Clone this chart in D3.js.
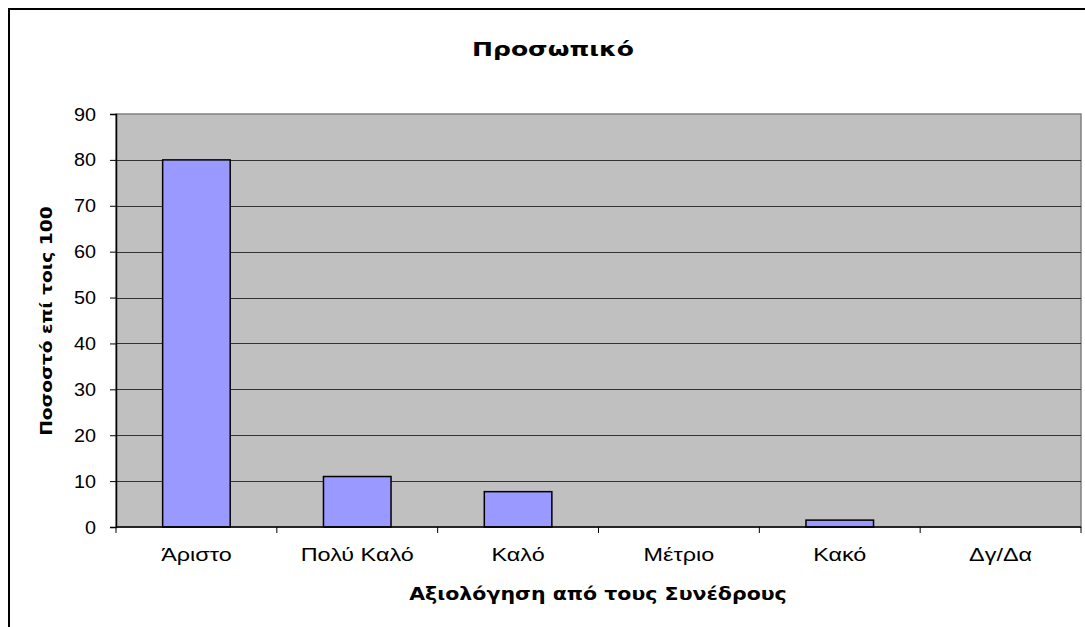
<!DOCTYPE html>
<html>
<head>
<meta charset="utf-8">
<script src="https://cdn.jsdelivr.net/npm/d3@7"></script>
<style>
  body { margin: 0; background: #fff; }
  svg { display: block; }
</style>
</head>
<body>
<svg id="chart" width="1085" height="627"></svg>
<script>
// categories along the x axis
const CATEGORIES = ["Άριστο", "Πολύ Καλό", "Καλό", "Μέτριο", "Κακό", "Δγ/Δα"];
// percentage per category
const VALUES = [80, 11, 7.7, 0, 1.5, 0];
// y tick values
const Y_TICKS = [0, 10, 20, 30, 40, 50, 60, 70, 80, 90];

const TITLE = "Προσωπικό";
const X_TITLE = "Αξιολόγηση από τους Συνέδρους";
const Y_TITLE = "Ποσοστό επί τοις 100";

const SANS = "'Liberation Sans', Arial, sans-serif";
const BOLD = "'DejaVu Sans', Verdana, sans-serif";

// text in the original is stretched sideways, so each label gets its own x-scale
function addText(g, x, y, str, opts) {
  return g.append("text")
    .attr("transform", `translate(${x},${y})` + (opts.rotate ? ` rotate(${opts.rotate})` : "") + ` scale(${opts.sx},1)`)
    .attr("text-anchor", opts.anchor || "middle")
    .attr("font-family", opts.family)
    .attr("font-weight", opts.weight || "normal")
    .attr("font-size", opts.size)
    .attr("fill", "#000")
    .text(str);
}

function drawChart() {
  const svg = d3.select("#chart");

  // outer chart frame (runs off right/bottom edge)
  svg.append("rect")
    .attr("x", 9).attr("y", 9)
    .attr("width", 1100).attr("height", 640)
    .attr("fill", "#fff")
    .attr("stroke", "#000")
    .attr("stroke-width", 2);

  const left = 116, top = 114, right = 1081, bottom = 527;

  const x = d3.scaleBand()
    .domain(CATEGORIES)
    .range([left, right])
    .paddingInner(0.58)
    .paddingOuter(0.29);

  const y = d3.scaleLinear()
    .domain([0, 90])
    .range([bottom, top]);

  // plot background
  svg.append("rect")
    .attr("x", left).attr("y", top)
    .attr("width", right - left).attr("height", bottom - top)
    .attr("fill", "#c0c0c0")
    .attr("stroke", "#808080")
    .attr("stroke-width", 1.5);

  // gridlines
  svg.append("g")
    .selectAll("line")
    .data(Y_TICKS.filter(d => d > 0 && d < 90))
    .enter()
    .append("line")
    .attr("x1", left).attr("x2", right)
    .attr("y1", d => Math.round(y(d)) + 0.5)
    .attr("y2", d => Math.round(y(d)) + 0.5)
    .attr("stroke", "#333")
    .attr("stroke-width", 1);

  // bars
  svg.append("g")
    .selectAll("rect")
    .data(VALUES.map((v, i) => ({cat: CATEGORIES[i], v: v})).filter(d => d.v > 0))
    .enter()
    .append("rect")
    .attr("x", d => x(d.cat))
    .attr("y", d => y(d.v))
    .attr("width", x.bandwidth())
    .attr("height", d => bottom - y(d.v))
    .attr("fill", "#9999ff")
    .attr("stroke", "#000")
    .attr("stroke-width", 1.5);

  // y axis (labels drawn by hand so they can be stretched)
  const yAxis = svg.append("g")
    .attr("transform", `translate(${left},0)`)
    .call(d3.axisLeft(y).tickValues(Y_TICKS).tickSize(6).tickFormat(""));
  yAxis.select(".domain").attr("stroke", "#000").attr("stroke-width", 1.5);
  yAxis.selectAll(".tick line").attr("stroke", "#000");
  const yLab = svg.append("g");
  Y_TICKS.forEach(t => {
    addText(yLab, left - 20, y(t) + 6.5, d3.format("d")(t),
      {sx: 1.1, size: 18, family: SANS, anchor: "end"});
  });

  // x axis: ticks at category boundaries
  const boundaries = d3.range(CATEGORIES.length + 1).map(i => left + i * (right - left) / CATEGORIES.length);
  const xg = svg.append("g");
  xg.append("line")
    .attr("x1", left).attr("x2", right)
    .attr("y1", bottom).attr("y2", bottom)
    .attr("stroke", "#000").attr("stroke-width", 1.5);
  xg.selectAll(".xt")
    .data(boundaries)
    .enter()
    .append("line")
    .attr("x1", d => d).attr("x2", d => d)
    .attr("y1", bottom).attr("y2", bottom + 6)
    .attr("stroke", "#000");
  CATEGORIES.forEach(c => {
    addText(xg, x(c) + x.bandwidth() / 2, bottom + 34, c, {sx: 1.3, size: 18, family: SANS});
  });

  // titles
  addText(svg, 553, 56, TITLE, {sx: 1.32, size: 19, family: BOLD, weight: "bold"});
  addText(svg, 598, 600, X_TITLE, {sx: 1.14, size: 18, family: BOLD, weight: "bold"});
  addText(svg, 52, 321, Y_TITLE, {sx: 1.17, size: 16, family: BOLD, weight: "bold", rotate: -90});
}

window.addEventListener("load", drawChart);
</script>
</body>
</html>
